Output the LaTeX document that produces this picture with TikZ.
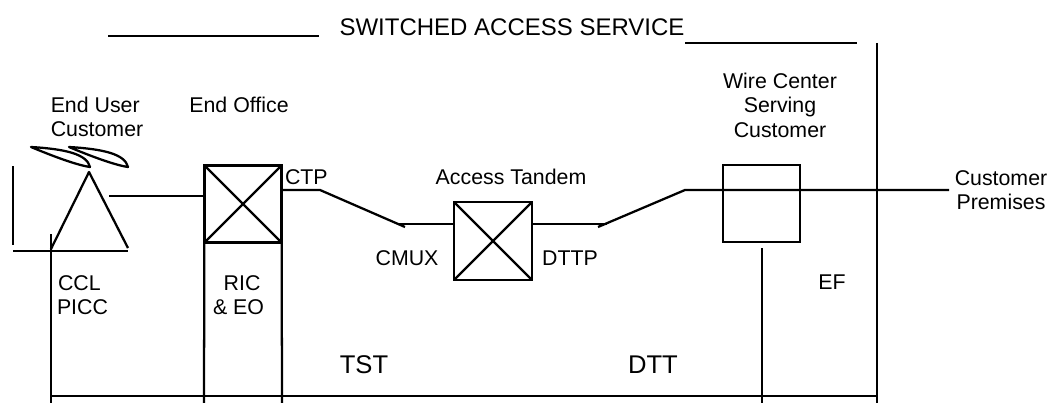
\documentclass[tikz,border=0pt]{standalone}
\usepackage{fontspec}
\setmainfont{Liberation Sans}
\usetikzlibrary{positioning}

\tikzset{
  wire/.style={line width=1.7pt, line cap=butt, line join=round},
  label/.style={inner sep=0pt, outer sep=0pt, font=\fontsize{16}{18.4}\selectfont, text=black},
  biglabel/.style={label, font=\fontsize{19.2}{22}\selectfont},
  titlelabel/.style={label, font=\fontsize{18}{22}\selectfont},
  officebox/.style={draw, line width=1.7pt, minimum size=58pt, inner sep=0pt, outer sep=0pt}
}

\begin{document}
\begin{tikzpicture}[x=0.75pt, y=-0.75pt]
\useasboundingbox (0,0) rectangle (1054,403);

% Heading and its rules
\node[titlelabel] (title) at (512,27) {SWITCHED ACCESS SERVICE};
\coordinate (ruleA) at (108,36);
\coordinate (ruleB) at (319,36);
\coordinate (ruleC) at (685,43);
\coordinate (ruleD) at (857,43);
\draw[wire] (ruleA) -- (ruleB);
\draw[wire] (ruleC) -- (ruleD);

% Offices
\node[officebox, line width=2.4pt] (endOffice) at (243,204) {};
\node[officebox] (tandem) at (493,241) {};
\node[officebox] (wireCenter) at (761.5,203.5) {};
\draw[wire] (endOffice.north west) -- (endOffice.south east);
\draw[wire] (endOffice.south west) -- (endOffice.north east);
\draw[wire] (tandem.north west) -- (tandem.south east);
\draw[wire] (tandem.south west) -- (tandem.north east);

% End user set
\coordinate (apex) at (89,172);
\coordinate (triLeft) at (51,249);
\coordinate (triRight) at (128,248);
\coordinate (baseLeft) at (13,251);
\coordinate (baseRight) at (128,251);
\coordinate (postTop) at (13,166);
\coordinate (postEnd) at (13,245);
\draw[wire] (triLeft) -- (apex) -- (triRight);
\draw[wire] (baseLeft) -- (baseRight);
\draw[wire] (postTop) -- (postEnd);

% Antenna blades
\draw[wire] (31,147) .. controls (65,149) and (87,154) .. (90,167) .. controls (76,165) and (50,155) .. (31,147) -- cycle;
\draw[wire] (69,147) .. controls (103,149) and (125,154) .. (128,167) .. controls (114,165) and (88,155) .. (69,147) -- cycle;

% Trunk from customer to premises
\coordinate (userOut) at (109,196);
\coordinate (eoIn) at (204,196);
\coordinate (eoOut) at (282,190);
\coordinate (bendA) at (320,190);
\coordinate (muxEnd) at (405,227);
\coordinate (muxIn) at (399,224);
\coordinate (tandemIn) at (454,224);
\coordinate (tandemOut) at (532,224);
\coordinate (dttpIn) at (607,224);
\coordinate (dttpEnd) at (598,227);
\coordinate (bendB) at (685,190);
\coordinate (premises) at (949,190);
\draw[wire] (userOut) -- (eoIn);
\draw[wire] (eoOut) -- (bendA) -- (muxEnd);
\draw[wire] (muxIn) -- (tandemIn);
\draw[wire] (tandemOut) -- (dttpIn);
\draw[wire] (dttpEnd) -- (bendB) -- (premises);

% Section lines down to the bottom rule
\coordinate (cclTop) at (51,234);
\coordinate (cclEnd) at (51,403);
\coordinate (eoLeftEnd) at (204,403);
\coordinate (eoRightEnd) at (282,403);
\coordinate (wcTop) at (762,248);
\coordinate (wcEnd) at (762,403);
\coordinate (efTop) at (877,43);
\coordinate (efEnd) at (877,403);
\coordinate (baseA) at (51,396);
\coordinate (baseB) at (877,396);
\draw[wire] (cclTop) -- (cclEnd);
\draw[wire] (endOffice.south west) -- (eoLeftEnd);
\draw[wire] (endOffice.south east) -- (eoRightEnd);
\draw[wire] (wcTop) -- (wcEnd);
\draw[wire] (efTop) -- (efEnd);
\draw[wire] (baseA) -- (baseB);

% Labels
\node[label, align=left] (userLabel) at (97,117) {End User\\Customer};
\node[label] (eoLabel) at (239,105) {End Office};
\node[label, anchor=west] (ctpLabel) at (285,177) {CTP};
\node[label] (tandemLabel) at (511,177) {Access Tandem};
\node[label] (cmuxLabel) at (407,258) {CMUX};
\node[label] (dttpLabel) at (570,258) {DTTP};
\node[label, align=center] (wcLabel) at (780,105) {Wire Center\\Serving\\Customer};
\node[label, align=center] (premLabel) at (1001,190) {Customer\\Premises};
\node[label, align=left, anchor=west] (cclLabel) at (57,295) {\hspace{0.8pt}CCL\\PICC};
\node[label, align=left, anchor=west] (ricLabel) at (213,295) {\hspace{8pt}RIC\\\& EO};
\node[label] (efLabel) at (832,282) {EF};
\node[biglabel] (tstLabel) at (364,365) {TST};
\node[biglabel] (dttLabel) at (653,365) {DTT};
\end{tikzpicture}
\end{document}
